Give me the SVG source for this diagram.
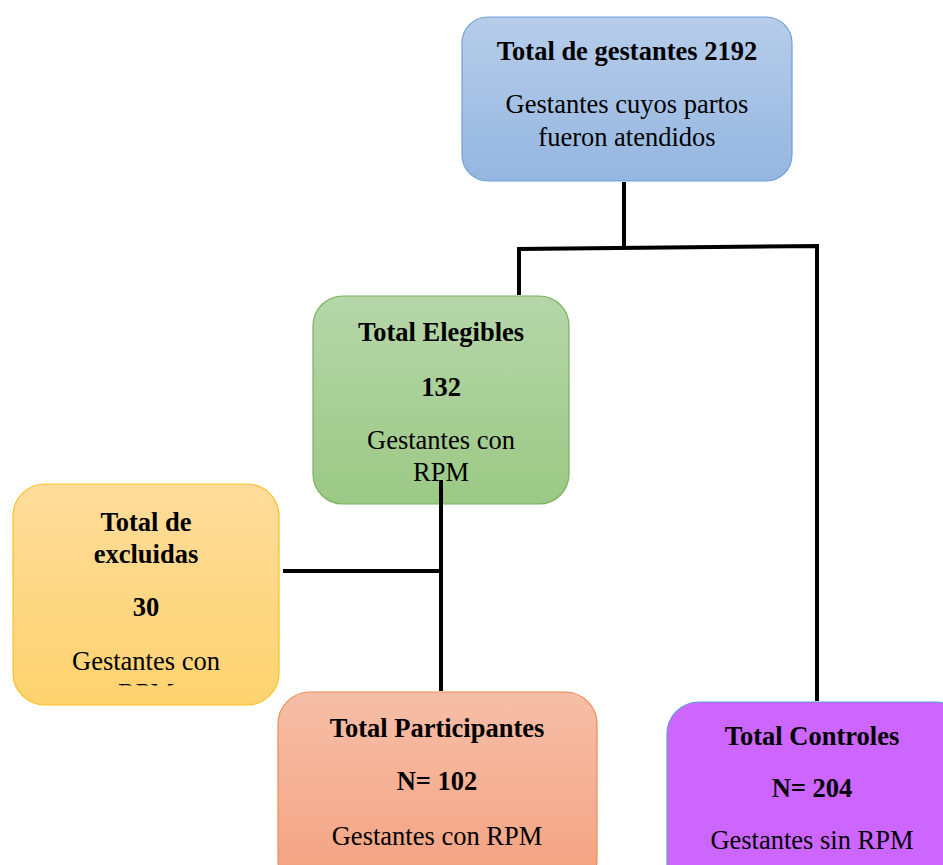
<svg xmlns="http://www.w3.org/2000/svg" width="943" height="865" viewBox="0 0 943 865">
<style>
.t{font-family:"Liberation Serif","Times New Roman",serif;font-size:26.5px;fill:#000;text-anchor:middle}
.b{font-weight:bold}
.c{fill:none;stroke:#000;stroke-width:4}
</style>
<defs>
<linearGradient id="gBlue" x1="0" y1="0" x2="0" y2="1"><stop offset="0" stop-color="#b7cdea"/><stop offset="1" stop-color="#94b6e0"/></linearGradient>
<linearGradient id="gGreen" x1="0" y1="0" x2="0" y2="1"><stop offset="0" stop-color="#b6d6a9"/><stop offset="1" stop-color="#9bc985"/></linearGradient>
<linearGradient id="gYellow" x1="0" y1="0" x2="0" y2="1"><stop offset="0" stop-color="#fedc9b"/><stop offset="1" stop-color="#fed36f"/></linearGradient>
<linearGradient id="gOrange" x1="0" y1="0" x2="0" y2="1"><stop offset="0" stop-color="#f6bea7"/><stop offset="1" stop-color="#f3a180"/></linearGradient>
<clipPath id="clipY"><rect x="13" y="484" width="266" height="201.5"/></clipPath>
</defs>
<rect width="943" height="865" fill="#fff"/>
<g id="n-total">
<rect x="462" y="17" width="330" height="164" rx="26" fill="url(#gBlue)" stroke="#6f9fd6" stroke-width="1.2"/>
<text class="t b" x="627" y="60">Total de gestantes 2192</text>
<text class="t" x="627" y="113">Gestantes cuyos partos</text>
<text class="t" x="627" y="146">fueron atendidos</text>
</g>
<g id="n-elegibles">
<rect x="313" y="296" width="256" height="208" rx="30" fill="url(#gGreen)" stroke="#79b15c" stroke-width="1.2"/>
<text class="t b" x="441" y="341">Total Elegibles</text>
<text class="t b" x="441" y="396">132</text>
<text class="t" x="441" y="449">Gestantes con</text>
<text class="t" x="441" y="481">RPM</text>
</g>
<g id="n-excluidas">
<rect x="13" y="484" width="266" height="221" rx="32" fill="url(#gYellow)" stroke="#fbc02a" stroke-width="1.2"/>
<text class="t b" x="146" y="531">Total de</text>
<text class="t b" x="146" y="563">excluidas</text>
<text class="t b" x="146" y="616">30</text>
<text class="t" x="146" y="670">Gestantes con</text>
<text class="t" x="146" y="702" clip-path="url(#clipY)">RPM</text>
</g>
<g id="n-participantes">
<rect x="278" y="692" width="319" height="200" rx="32" fill="url(#gOrange)" stroke="#ef8a4e" stroke-width="1.2"/>
<text class="t b" x="437" y="737">Total Participantes</text>
<text class="t b" x="437" y="790">N= 102</text>
<text class="t" x="437" y="845">Gestantes con RPM</text>
</g>
<g id="n-controles">
<rect x="667" y="702" width="300" height="200" rx="32" fill="#cc66ff" stroke="#5b9bd5" stroke-width="1.2"/>
<text class="t b" x="812" y="745">Total Controles</text>
<text class="t b" x="812" y="797">N= 204</text>
<text class="t" x="812" y="849">Gestantes sin RPM</text>
</g>
<g id="connectors">
<path class="c" d="M624 182 V248"/>
<path class="c" d="M519 295 V249 L817 246 V701"/>
<path class="c" d="M441 480 V691"/>
<path class="c" d="M283 571 H441"/>
</g>
</svg>
